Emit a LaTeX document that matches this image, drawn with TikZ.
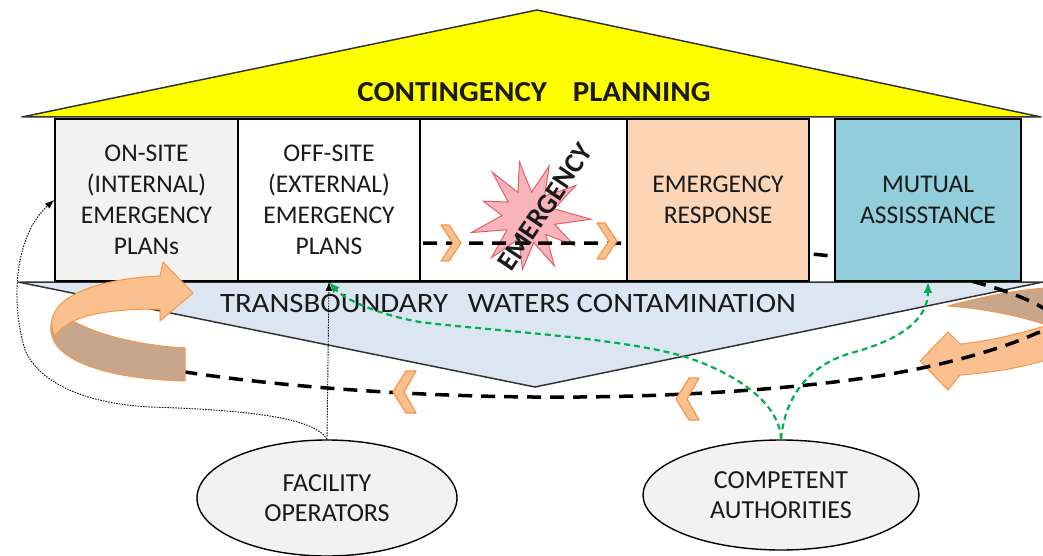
\documentclass[tikz,border=0pt]{standalone}
\usepackage{fontspec}
\setmainfont{Carlito}
\usetikzlibrary{arrows.meta,shapes.geometric}
\definecolor{roofc}{HTML}{FFFF00}
\definecolor{lowc}{HTML}{DCE6F2}
\definecolor{gryc}{HTML}{F2F2F2}
\definecolor{erc}{HTML}{FBD5B5}
\definecolor{mac}{HTML}{92CDDC}
\definecolor{orf}{HTML}{FAC090}
\definecolor{ord}{HTML}{F79646}
\definecolor{brn}{HTML}{C8A68C}
\definecolor{grn}{HTML}{00B050}
\definecolor{starf}{HTML}{F8B4BA}
\definecolor{stard}{HTML}{E0606A}
\definecolor{edgec}{HTML}{333333}
\definecolor{txtc}{HTML}{1A1A1A}
\newcommand\myfs[2]{\fontsize{#1}{#2}\selectfont}
\begin{document}
\begin{tikzpicture}[x=1pt,y=-1pt,
  boxn/.style={draw=black, line width=1.8pt, align=center, inner sep=0pt, minimum height=162pt, text=txtc, font=\myfs{25.5}{31}},
  ell/.style={ellipse, draw=black, line width=1.4pt, fill=gryc, align=center, inner sep=0pt, text=txtc, font=\myfs{26}{30}},
  chev/.style={fill=orf, draw=ord, line width=1.2pt, line join=round},
  loopline/.style={line width=3.5pt, dash pattern=on 14pt off 9pt},
  grline/.style={draw=grn, line width=2.2pt, dash pattern=on 6pt off 4pt, -{Latex[length=11pt,width=9pt]}},
  dotline/.style={draw=black, line width=0.9pt, dash pattern=on 1.5pt off 1.2pt, -{Latex[length=9pt,width=7pt]}},
  bandb/.style={fill=brn, draw=ord, line width=1pt, line join=round},
  bandf/.style={fill=orf, draw=ord, line width=1pt, line join=round}]
\useasboundingbox (0,0) rectangle (1043,556);
\clip (0,0) rectangle (1043,556);

% roof
\draw[fill=roofc, draw=edgec, line width=1.5pt, line join=round] (22,117) -- (537,10) -- (1041,117) -- cycle;
\node[font=\bfseries\myfs{29}{32}, text=txtc] (title) at (534,92) {\scalebox{1.07}[1]{CONTINGENCY\hspace{24pt}PLANNING}};

% lower shape
\draw[fill=lowc, draw=edgec, line width=1.5pt, line join=round] (18,282) -- (1043,282) -- (535,387) -- cycle;
\node[font=\myfs{28}{30}, text=txtc] (tw) at (508,304) {\scalebox{1.1}[1]{TRANSBOUNDARY\hspace{18pt}WATERS CONTAMINATION}};

% middle box
\node[boxn, fill=white, minimum width=207pt] (b3) at (523.5,200) {};

% right orange arrow
\filldraw[bandb] (948,306) .. controls (985,296) and (1020,289) .. (1060,287) -- (1060,330) .. controls (1030,318) and (990,309) .. (948,306) -- cycle;
\filldraw[bandf] (1060,322) .. controls (1030,330) and (1000,340) .. (960,344) -- (948,332) -- (920,361) -- (948,390) -- (960,375) .. controls (1000,372) and (1035,365) .. (1060,355) -- cycle;

% star
\filldraw[fill=starf, draw=stard, line width=1pt, line join=miter, shift={(529,216)}]
  (-100:55) -- (-84:24) -- (-68:54) -- (-52:25) -- (-33:56) -- (-16:26) -- (3:62) -- (18:27)
  -- (33:54) -- (48:25) -- (63:56) -- (80:27) -- (97:54) -- (114:25) -- (132:56) -- (148:26)
  -- (164:60) -- (181:27) -- (198:48) -- (214:25) -- (230:57) -- (245:26) -- cycle;

% dashed loop
\draw[loopline] (400,243) -- (627,243)
  .. controls (700,246) and (760,249) .. (822,255)
  .. controls (900,263) and (985,280) .. (1032,302)
  .. controls (1065,318) and (1060,328) .. (1037,333)
  .. controls (1000,350) and (930,370) .. (850,380)
  .. controls (760,392) and (640,398) .. (533,397)
  .. controls (420,396) and (290,388) .. (185,372);

% chevrons
\draw[chev, shift={(451,243)}] (-10,-18) -- (-2,-18) -- (10,0) -- (-2,18) -- (-10,18) -- (2,0) -- cycle;
\draw[chev, shift={(607,241)}] (-10,-18) -- (-2,-18) -- (10,0) -- (-2,18) -- (-10,18) -- (2,0) -- cycle;
\draw[chev, shift={(405,392)}] (11,-21) -- (1,-21) -- (-12,0) -- (1,21) -- (11,21) -- (-1,0) -- cycle;
\draw[chev, shift={(688,399)}] (11,-21) -- (1,-21) -- (-12,0) -- (1,21) -- (11,21) -- (-1,0) -- cycle;

% boxes
\node[boxn, fill=gryc, minimum width=183pt] (b1) at (146.5,200) {ON-SITE\\(INTERNAL)\\EMERGENCY\\PLANs};
\node[boxn, fill=white, minimum width=182pt] (b2) at (329,200) {OFF-SITE\\(EXTERNAL)\\EMERGENCY\\PLANS};
\node[boxn, fill=erc, minimum width=182pt] (er) at (718,200) {EMERGENCY\\RESPONSE};
\node[boxn, fill=mac, minimum width=186pt] (ma) at (928,200) {MUTUAL\\ASSISSTANCE};

% emergency label
\node[font=\bfseries\myfs{28}{30}, text=txtc, rotate=56] (emt) at (545,207) {EMERGENCY};

% left orange arrow
\filldraw[bandb] (185,348) -- (185,381) .. controls (110,379) and (55,362) .. (51,332) .. controls (50,322) and (53,315) .. (58,311) .. controls (80,330) and (130,345) .. (185,348) -- cycle;
\filldraw[bandf] (55,336) .. controls (40,308) and (75,280) .. (160,276) -- (163,262) -- (193,293) -- (160,321) -- (160,309) .. controls (110,309) and (70,314) .. (55,336) -- cycle;

% ellipses
\node[ell, minimum width=260pt, minimum height=116pt] (fac) at (327,498) {FACILITY\\OPERATORS};
\node[ell, minimum width=276pt, minimum height=110pt] (comp) at (781,495) {COMPETENT\\AUTHORITIES};

% connectors
\draw[dotline] (fac.north) -- (b2.south);
\draw[dotline] (fac.north) .. controls (315,418) and (250,410) .. (150,407) .. controls (90,404) and (40,385) .. (25,350) .. controls (10,300) and (15,235) .. (b1.west);
\draw[grline] (comp.north) .. controls (780,405) and (740,375) .. (686,357) .. controls (620,337) and (480,330) .. (420,322) .. controls (380,315) and (345,300) .. (b2.south);
\draw[grline] (comp.north) .. controls (785,395) and (810,365) .. (851,353) .. controls (900,340) and (928,320) .. (ma.south);
\end{tikzpicture}
\end{document}
